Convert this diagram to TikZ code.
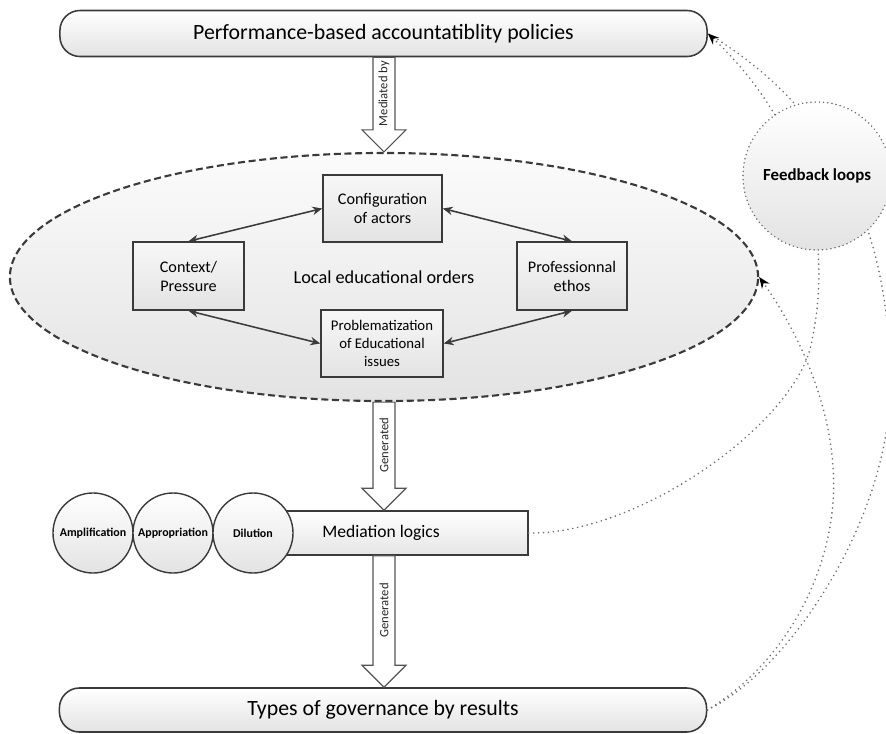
\documentclass[tikz,border=0pt]{standalone}
\usepackage{fontspec}
\setmainfont{Carlito}
\usetikzlibrary{arrows.meta, calc, shapes.geometric, shadows}
\definecolor{Edge}{HTML}{3A3A3A}
\definecolor{Dots}{HTML}{6E6E6E}
\tikzset{
  bar/.style={
    rectangle, rounded corners=0.5cm,
    draw=Edge, line width=1.1pt,
    top color=white, bottom color=gray!22,
    minimum width=16.175cm, minimum height=1.15cm,
    font=\fontsize{15.5}{18}\selectfont,
  },
  box/.style={
    rectangle, draw=Edge, line width=1.1pt,
    top color=gray!6, bottom color=gray!22,
    font=\fontsize{11.5}{13.5}\selectfont, align=center,
    drop shadow={shadow xshift=0.7pt, shadow yshift=-0.7pt, opacity=0.5},
  },
  orb/.style={
    circle, draw=Edge, line width=1pt,
    top color=white, bottom color=gray!22,
    minimum size=2.0cm, inner sep=0pt,
    font=\bfseries\fontsize{8.5}{10}\selectfont,
  },
  lnk/.style={
    {Stealth[length=7pt,width=6pt]}-{Stealth[length=7pt,width=6pt]},
    line width=1.1pt, draw=Edge,
  },
  blkarr/.style={
    draw=gray!65!black, fill=white, line width=0.8pt, line join=miter,
  },
  albl/.style={
    font=\fontsize{9}{10}\selectfont, text=gray!30!black, inner sep=0pt,
  },
  % dotted feedback lines
  fbk/.style={
    draw=Dots, line width=1.3pt, line cap=round,
    dash pattern=on 0pt off 3.5pt,
  },
  fbktip/.style={-{Stealth[length=8pt,width=6.5pt,black]}},
}

\begin{document}
\begin{tikzpicture}[x=0.025cm,y=0.025cm]
  \useasboundingbox (0,0) rectangle (886,733);

  \node[bar] (tb) at (383.5,699.5) {Performance-based accountatiblity policies};
  \node[bar, minimum height=1.1cm] (tgov) at (383,23) {Types of governance by results};

  % local educational orders
  \node[ellipse, draw=Edge, line width=1.5pt, dash pattern=on 5pt off 2.6pt,
        top color=gray!3, bottom color=gray!22,
        minimum width=18.7cm, minimum height=6.2cm,
        font=\fontsize{13}{15}\selectfont] (ell) at (384,456) {Local educational orders};

  \node[box, minimum width=2.975cm, minimum height=1.675cm] (cfg) at (382.5,524.5) {Configuration\\of actors};
  \node[box, minimum width=2.775cm, minimum height=1.7cm] (ctx) at (188.5,457) {Context/\\Pressure};
  \node[box, minimum width=2.75cm, minimum height=1.7cm] (pro) at (572,457) {Professionnal\\ethos};
  \node[box, minimum width=3.05cm, minimum height=1.675cm,
        font=\fontsize{10.5}{12.5}\selectfont] (prb) at (382,389.5) {Problematization\\of Educational\\issues};

  \draw[lnk] (cfg.west) -- (ctx.north);
  \draw[lnk] (cfg.east) -- (pro.north);
  \draw[lnk] (ctx.south) -- (prb.west);
  \draw[lnk] (pro.south) -- (prb.east);

  % mediation logics
  \node[box, minimum width=7.35cm, minimum height=1.1cm, top color=white, bottom color=gray!20,
        font=\fontsize{12.5}{15}\selectfont] (mlog) at (381,200) {Mediation logics};
  \foreach \n/\t/\x in {amp/Amplification/93, app/Appropriation/173, dil/Dilution/253}{
    \node[orb] (\n) at (\x,200) {\t};
  }

  % block arrows
  \foreach \a/\b/\t in {tb/ell/Mediated by, ell/mlog/Generated, mlog/tgov/Generated}{
    \coordinate (s) at (\a.south -| ell.center);
    \coordinate (e) at (\b.north -| ell.center);
    \draw[blkarr] ($(s)+(-11,0)$) -- ($(e)+(-11,22)$) -- ++(-11,0) -- (e)
      -- ++(22,22) -- ++(-11,0) -- ($(s)+(11,0)$) -- cycle;
    \node[albl, rotate=90] at ($(s)!0.5!($(e)+(0,22)$)$) {\t};
  }

  % feedback loops
  \draw[fbk] (tgov.east)
    .. controls (790,63) and (888,213) .. (890,343)
    .. controls (892,503) and (835,623) .. (tb.east);
  \draw[fbk, fbktip] (mlog.east)
    .. controls (640,198) and (800,313) .. (812,393)
    .. controls (835,503) and (800,613) .. (tb.east);
  \draw[fbk, fbktip] (tgov.east)
    .. controls (790,73) and (840,173) .. (833,266)
    .. controls (828,343) and (790,413) .. (ell.east);

  \node[circle, draw=Dots, line width=1.2pt, dash pattern=on 0pt off 3pt, line cap=round,
        top color=white, bottom color=gray!22, minimum size=3.7cm,
        font=\bfseries\fontsize{12}{14}\selectfont] (fb) at (817,557) {Feedback loops};

\end{tikzpicture}
\end{document}
